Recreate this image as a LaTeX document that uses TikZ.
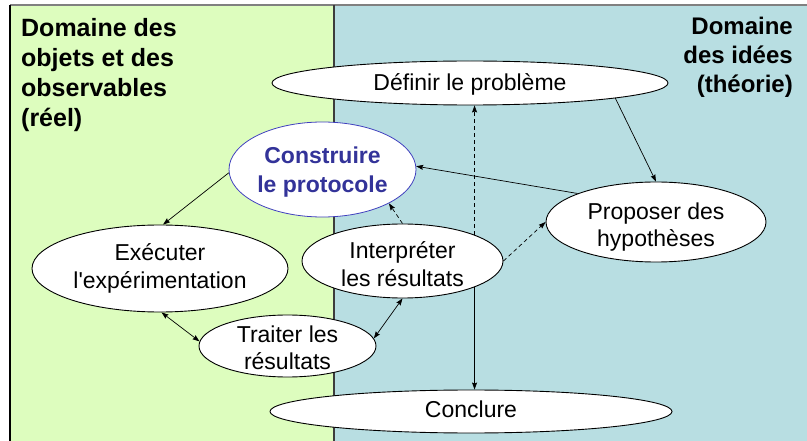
\documentclass[tikz,border=0pt]{standalone}
\usepackage{fontspec}
\setmainfont{Liberation Sans}
\usetikzlibrary{shapes.geometric,arrows.meta}
\definecolor{reelgreen}{RGB}{221,253,190}
\definecolor{ideeblue}{RGB}{184,222,226}
\definecolor{prototext}{RGB}{51,51,153}
\definecolor{protoborder}{RGB}{64,64,190}
\definecolor{framegray}{RGB}{128,128,128}
\definecolor{divgray}{RGB}{60,60,60}
\begin{document}
\begin{tikzpicture}[x=1pt,y=-1pt,
  ell/.style={ellipse,draw=black,fill=white,line width=0.9pt,inner sep=-20pt},
  lbl/.style={align=center,inner sep=0pt,font=\fontsize{23}{27.5}\selectfont},
  tip/.tip={Stealth[length=7pt,width=5pt,inset=1pt]},
  conn/.style={line width=0.7pt,-tip},
  both/.style={line width=0.7pt,tip-tip},
  dsh/.style={conn,dash pattern=on 4pt off 3pt},
  title/.style={inner sep=0pt,font=\bfseries}]
\useasboundingbox (0,0) rectangle (807,441);
% panels
\fill[reelgreen] (10,5) rectangle (334,441);
\fill[ideeblue] (334,5) rectangle (807,441);
\draw[framegray,line width=1.2pt] (10,5) -- (807,5);
\draw[black,line width=1.5pt] (10,5) -- (10,441);
\draw[divgray,line width=1.5pt] (334,5) -- (334,441);
% titles
\node[title,anchor=north west,align=left,font=\bfseries\fontsize{25}{30}\selectfont] (reel) at (21,18)
  {Domaine des\\objets et des\\observables\\(réel)};
\node[title,anchor=north east,align=right,font=\bfseries\fontsize{24}{29}\selectfont] (idees) at (793,16.5)
  {Domaine\\des idées\\(théorie)};
% ellipses
\node[ell,minimum width=396pt,minimum height=44pt,
  label={[lbl,yshift=-1pt]center:{Définir le problème}}] (def) at (470,83) {};
\node[ell,draw=protoborder,line width=0.8pt,minimum width=187pt,minimum height=95pt,
  label={[lbl,text=prototext,font=\bfseries\fontsize{23}{29}\selectfont,yshift=-3pt]center:{Construire\\le protocole}}] (constr) at (322.5,169.5) {};
\node[ell,minimum width=220pt,minimum height=80pt,
  label={[lbl,yshift=-5pt]center:{Proposer des\\hypothèses}}] (prop) at (656,222) {};
\node[ell,minimum width=256pt,minimum height=87pt,
  label={[lbl]center:{Exécuter\\l\textquotesingle expérimentation}}] (exec) at (160,268.5) {};
\node[ell,minimum width=201pt,minimum height=74pt,
  label={[lbl,yshift=-3pt]center:{Interpréter\\les résultats}}] (interp) at (402.5,261) {};
\node[ell,minimum width=177pt,minimum height=62pt,
  label={[lbl,yshift=-2pt]center:{Traiter les\\résultats}}] (trait) at (287.5,346) {};
\node[ell,minimum width=402pt,minimum height=43pt,
  label={[lbl,yshift=2pt]center:{Conclure}}] (concl) at (471,411.5) {};
% connectors
\draw[conn] (constr.182) -- (exec.86);
\draw[conn] (def.-6) -- (prop.north);
\draw[conn] (prop.160) -- (constr.2);
\draw[dsh] (interp.north) -- (constr.-27);
\draw[dsh] (interp.20) -- (interp.20 |- def.south);
\draw[conn] (interp.-20) -- (interp.-20 |- concl.north);
\draw[dsh] (interp.east) -- (prop.west);
\draw[both] (exec.-88) -- (trait.177);
\draw[both] (trait.5) -- (interp.south);
\end{tikzpicture}
\end{document}
